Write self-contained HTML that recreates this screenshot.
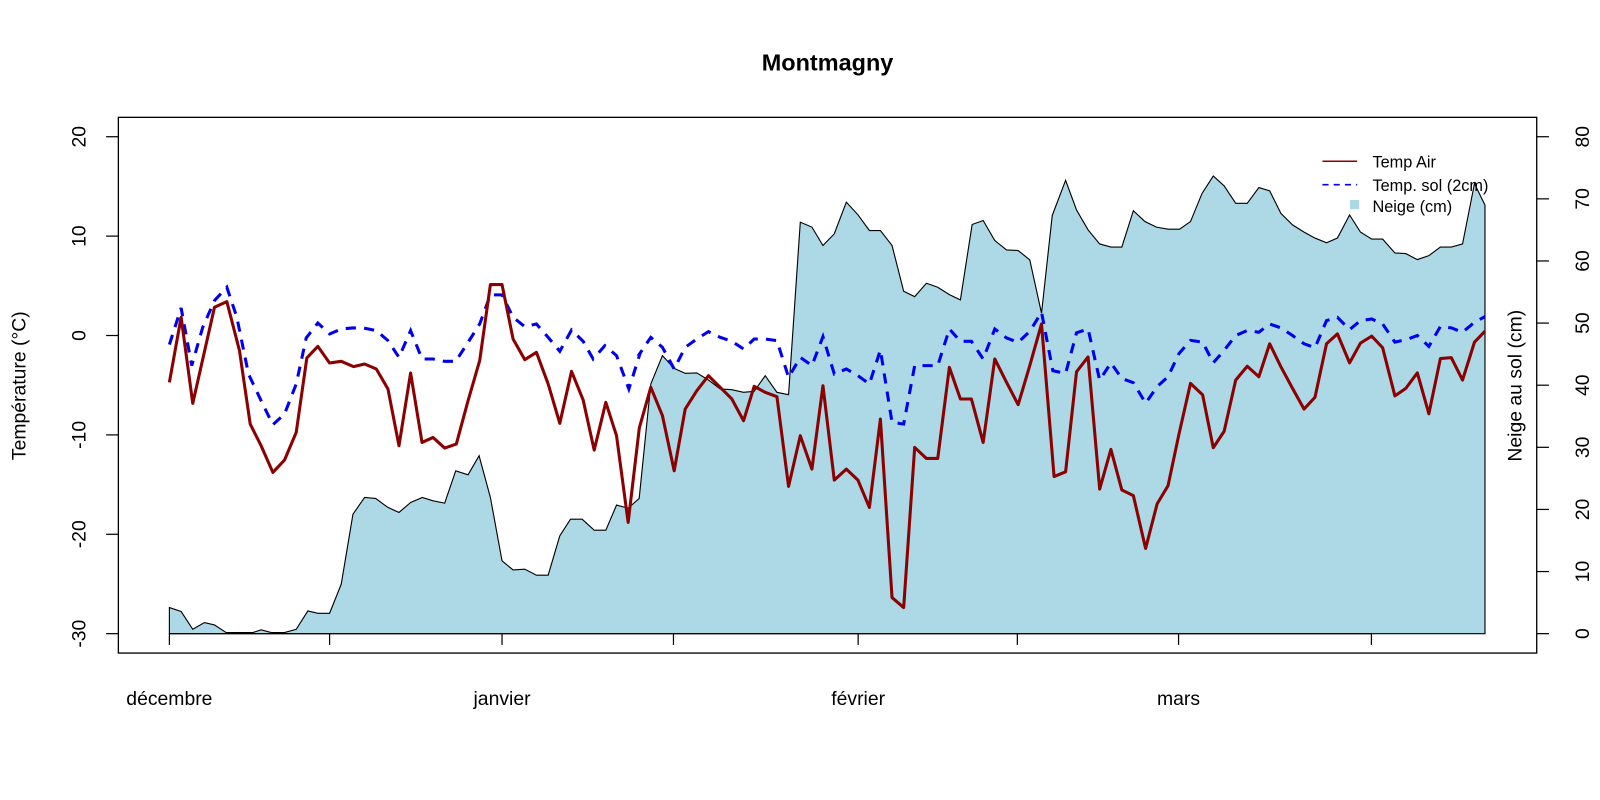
<!DOCTYPE html>
<html><head><meta charset="utf-8"><style>
html,body{margin:0;padding:0;background:#fff;}
svg{display:block;font-family:"Liberation Sans",Arial,sans-serif;}
</style></head><body>
<svg id="s" width="1600" height="800" xmlns="http://www.w3.org/2000/svg">
<g transform="scale(1.0204)">
<text x="811" y="69" font-size="23" font-weight="bold" text-anchor="middle">Montmagny</text>
<g id="plot"></g>
<rect x="116" y="115" width="1390" height="525" fill="none" stroke="#000" stroke-width="1.3"/>
<g stroke="#000" stroke-width="1.2">
<line x1="104" y1="134" x2="116" y2="134"/><line x1="104" y1="231.4" x2="116" y2="231.4"/>
<line x1="104" y1="328.8" x2="116" y2="328.8"/><line x1="104" y1="426.2" x2="116" y2="426.2"/>
<line x1="104" y1="523.6" x2="116" y2="523.6"/><line x1="104" y1="621" x2="116" y2="621"/>
</g>
<g font-size="19" text-anchor="middle">
<text transform="translate(84,134) rotate(-90)">20</text>
<text transform="translate(84,231.4) rotate(-90)">10</text>
<text transform="translate(84,328.8) rotate(-90)">0</text>
<text transform="translate(84,426.2) rotate(-90)">-10</text>
<text transform="translate(84,523.6) rotate(-90)">-20</text>
<text transform="translate(84,621) rotate(-90)">-30</text>
<text transform="translate(25,378) rotate(-90)">Température (°C)</text>
</g>
<g stroke="#000" stroke-width="1.2" id="rt"></g>
<g font-size="19" text-anchor="middle" id="rl"></g>
<text transform="translate(1491,378) rotate(-90)" font-size="19" text-anchor="middle">Neige au sol (cm)</text>
<g stroke="#000" stroke-width="1.2">
<line x1="166" y1="621" x2="1344" y2="621"/>
<line x1="166" y1="621" x2="166" y2="632"/><line x1="323" y1="621" x2="323" y2="632"/>
<line x1="492" y1="621" x2="492" y2="632"/><line x1="660" y1="621" x2="660" y2="632"/>
<line x1="841" y1="621" x2="841" y2="632"/><line x1="997" y1="621" x2="997" y2="632"/>
<line x1="1155" y1="621" x2="1155" y2="632"/><line x1="1344" y1="621" x2="1344" y2="632"/>
</g>
<g font-size="19" text-anchor="middle">
<text x="166" y="691">décembre</text><text x="492" y="691">janvier</text>
<text x="841" y="691">février</text><text x="1155" y="691">mars</text>
</g>
<line x1="1296" y1="158" x2="1330" y2="158" stroke="#8B0000" stroke-width="1.5"/>
<line x1="1296" y1="181" x2="1330" y2="181" stroke="#0000EE" stroke-width="1.5" stroke-dasharray="6,5"/>
<rect x="1323" y="196" width="9" height="9" fill="#ADD8E6"/>
<g font-size="16">
<text x="1345" y="164">Temp Air</text>
<text x="1345" y="187">Temp. sol (2cm)</text>
<text x="1345" y="208">Neige (cm)</text>
</g>
</g>
</svg>
<script>
var NS="http://www.w3.org/2000/svg";
function t1(a){return [146.4+a[0]*0.327,118+a[1]*0.327];}
function t2(a){return [617.5+a[0]*0.327,118+a[1]*0.327];}
function t3(a){return [1031.4+a[0]*0.3236,123.3+a[1]*0.3236];}
function conv(l1,l2,l3){var r=[];l1.forEach(function(p){r.push(t1(p))});l2.forEach(function(p){r.push(t2(p))});l3.forEach(function(p){r.push(t3(p))});return r;}
var fill=conv(
[[60,1460],[95,1472],[130,1525],[165,1505],[195,1512],[230,1535],[310,1535],[335,1527],[365,1535],[405,1535],[440,1525],[475,1470],[505,1477],[540,1477],[575,1390],[610,1180],[645,1130],[678,1133],[715,1160],[748,1175],[783,1145],[818,1130],[850,1140],[885,1147],[918,1050],[955,1062],[988,1005],[1022,1130],[1057,1320],[1090,1347],[1125,1345],[1160,1363],[1195,1363],[1230,1245],[1262,1195],[1297,1195],[1333,1228],[1368,1228],[1400,1153],[1435,1162],[1468,1133]],
[[62,790],[97,705],[132,743],[165,758],[200,757],[235,778],[270,805],[305,807],[340,815],[372,812],[405,765],[440,815],[475,822],[510,305],[545,320],[578,375],[612,340],[648,245],[683,283],[717,330],[750,330],[785,375],[820,512],[853,528],[888,488],[922,500],[957,522],[990,538],[1025,312],[1058,300],[1093,360],[1128,388],[1163,390],[1198,418],[1233,578],[1265,285]],
[[40,165],[73,255],[108,315],[143,358],[177,367],[210,367],[245,257],[280,290],[315,307],[350,313],[385,313],[418,290],[453,205],[487,152],[520,182],[555,235],[590,235],[625,187],[658,197],[692,265],[727,300],[762,322],[795,340],[830,354],[863,340],[900,270],[933,322],[967,343],[1000,343],[1037,385],[1070,387],[1105,405],[1140,393],[1175,367],[1208,367],[1242,358],[1278,175],[1310,240]]);
var red=conv(
[[60,785],[95,590],[130,848],[195,560],[232,543],[270,690],[302,910],[335,975],[370,1055],[405,1018],[440,935],[472,712],[505,677],[540,727],[575,722],[612,738],[645,730],[680,745],[715,805],[748,975],[783,757],[817,965],[850,950],[885,982],[920,970],[955,840],[990,720],[1022,492],[1057,492],[1090,655],[1125,717],[1160,695],[1195,790],[1230,908],[1265,752],[1300,838],[1333,988],[1368,845],[1400,945],[1435,1205],[1468,925]],
[[28,920],[62,800],[97,885],[132,1050],[165,865],[200,810],[235,765],[270,800],[305,835],[340,900],[372,797],[405,815],[440,828],[475,1097],[510,945],[545,1045],[578,795],[612,1078],[648,1045],[683,1078],[717,1160],[750,895],[785,1430],[820,1460],[853,980],[888,1013],[922,1013],[957,740],[990,835],[1023,835],[1058,965],[1093,715],[1128,785],[1163,852],[1198,735],[1233,610]],
[[5,1062],[40,1048],[73,745],[108,700],[143,1100],[177,980],[210,1103],[245,1120],[282,1280],[317,1145],[350,1090],[383,935],[418,780],[455,815],[487,975],[520,925],[555,770],[590,728],[625,760],[658,660],[692,730],[727,795],[762,858],[795,822],[830,660],[863,630],[900,718],[933,658],[967,637],[1000,672],[1037,818],[1070,795],[1105,748],[1140,872],[1175,705],[1208,702],[1242,770],[1278,655],[1310,622]]);
var blue=conv(
[[60,672],[95,562],[127,735],[160,620],[195,540],[232,500],[262,590],[297,760],[335,840],[370,912],[405,880],[440,790],[470,652],[505,607],[540,640],[575,625],[610,622],[640,622],[680,630],[715,660],[748,710],[783,630],[817,715],[850,715],[885,722],[918,722],[955,665],[990,610],[1022,523],[1057,523],[1090,590],[1125,618],[1160,610],[1195,650],[1230,692],[1265,628],[1300,662],[1330,715],[1365,675],[1400,705],[1437,805],[1470,700]],
[[28,700],[62,650],[97,680],[132,745],[165,680],[200,655],[235,633],[270,650],[305,662],[340,685],[372,655],[405,655],[440,660],[475,770],[510,710],[545,735],[578,648],[612,760],[648,745],[683,765],[717,790],[750,688],[785,905],[820,910],[853,735],[888,735],[922,735],[957,625],[990,662],[1023,662],[1058,715],[1093,625],[1128,652],[1163,665],[1198,632],[1233,575],[1267,750]],
[[40,750],[73,627],[108,615],[143,770],[177,718],[210,765],[245,778],[282,840],[317,790],[350,760],[383,690],[418,650],[455,655],[487,718],[520,680],[555,635],[590,620],[625,625],[658,600],[692,612],[727,635],[762,660],[795,672],[830,590],[863,580],[900,617],[933,590],[967,585],[1000,600],[1037,655],[1070,648],[1105,635],[1140,668],[1175,608],[1208,612],[1242,625],[1278,595],[1310,578]]);
function pts(a){return a.map(function(p){return p[0].toFixed(1)+","+p[1].toFixed(1)}).join(" ");}
var g=document.getElementById("plot");
var f=fill.slice();var x0=f[0][0],x1=f[f.length-1][0];
f.unshift([x0,621]);f.push([x1,621]);
function el(n,at){var e=document.createElementNS(NS,n);for(var k in at)e.setAttribute(k,at[k]);g.appendChild(e);return e;}
el("polygon",{points:pts(f),fill:"#ADD8E6",stroke:"#000","stroke-width":"1.1"});
el("polyline",{points:pts(blue),fill:"none",stroke:"#0000EE","stroke-width":"3","stroke-dasharray":"10,8"});
el("polyline",{points:pts(red),fill:"none",stroke:"#8B0000","stroke-width":"3","stroke-linejoin":"round"});
var rt=document.getElementById("rt"),rl=document.getElementById("rl");
for(var i=0;i<=8;i++){var y=621-i*60.875;
var l=document.createElementNS(NS,"line");l.setAttribute("x1",1506);l.setAttribute("x2",1518);l.setAttribute("y1",y);l.setAttribute("y2",y);rt.appendChild(l);
var t=document.createElementNS(NS,"text");t.setAttribute("transform","translate(1557,"+y+") rotate(-90)");t.textContent=(i*10);rl.appendChild(t);}
</script>
</body></html>
